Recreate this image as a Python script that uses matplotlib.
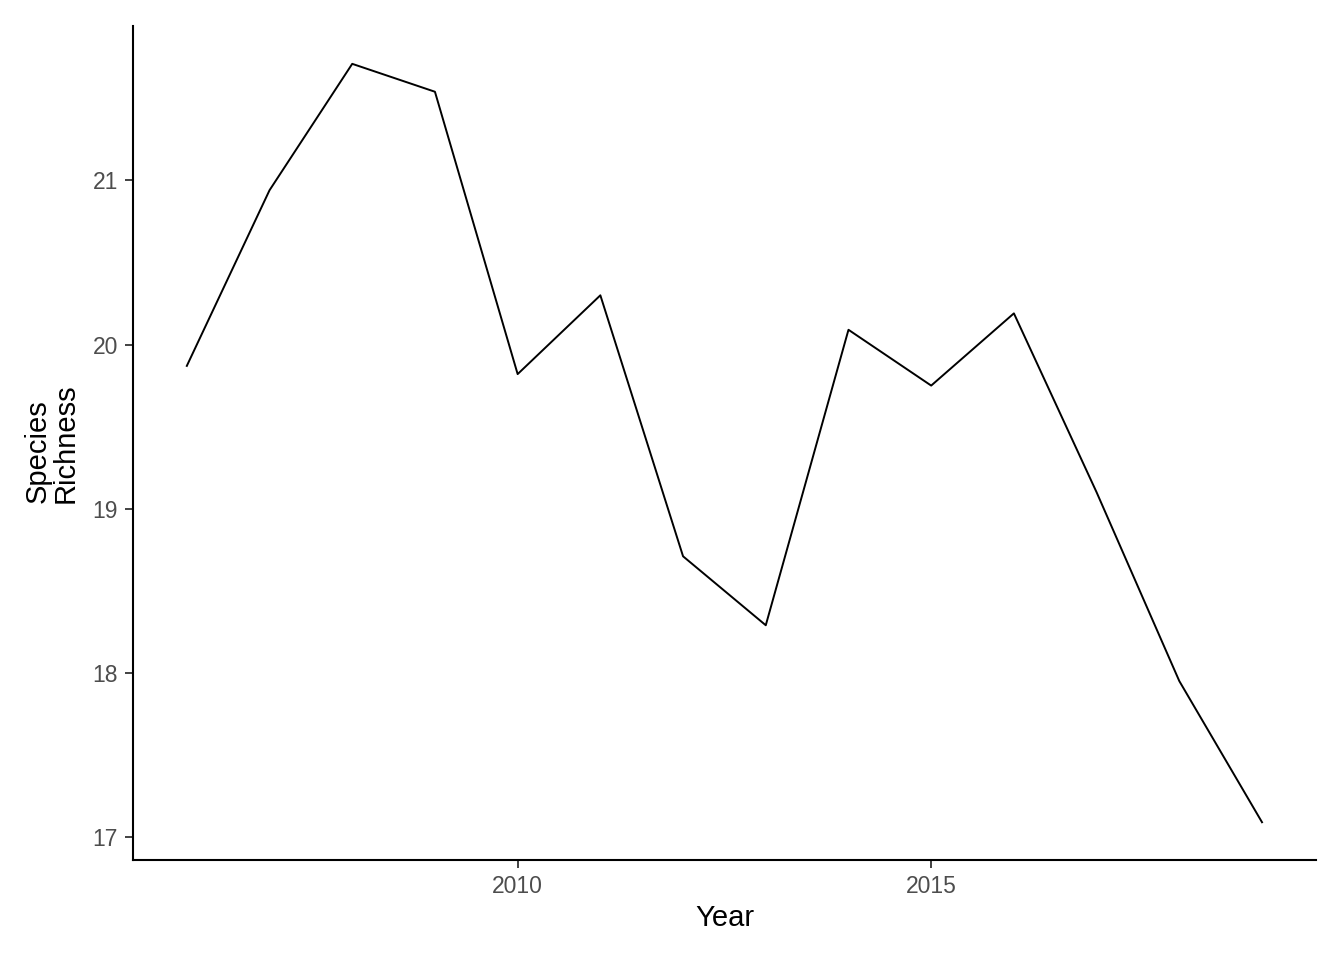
import matplotlib
matplotlib.use("Agg")
import matplotlib.pyplot as plt

# Species richness per year
years = [2006, 2007, 2008, 2009, 2010, 2011, 2012,
         2013, 2014, 2015, 2016, 2017, 2018, 2019]
richness = [19.87, 20.94, 21.71, 21.54, 19.82, 20.30, 18.71,
            18.29, 20.09, 19.75, 20.19, 19.10, 17.95, 17.09]
x_ticks = [2010, 2015]
y_ticks = [17, 18, 19, 20, 21]

plt.rcParams['font.family'] = ['Liberation Sans', 'DejaVu Sans']

fig = plt.figure(figsize=(13.44, 9.6), dpi=100)
ax = fig.add_axes([0.099, 0.104, 0.880, 0.869])

ax.plot(years, richness, color='black', lw=1.4)
ax.margins(0.05)

# classic theme: only left and bottom axis lines
for side in ['top', 'right']:
    ax.spines[side].set_visible(False)
for side in ['left', 'bottom']:
    ax.spines[side].set_linewidth(1.5)
    ax.spines[side].set_color('black')

ax.set_xticks(x_ticks)
ax.set_yticks(y_ticks)
ax.tick_params(axis='both', length=5.5, width=1.3, color='#333333',
               labelsize=16.5, labelcolor='#4D4D4D', pad=5.5)

ax.set_xlabel("Year", fontsize=21, color='black', labelpad=4)
ax.set_ylabel("Species\nRichness", fontsize=21, color='black',
              labelpad=9, multialignment='left', linespacing=1.0)

fig.savefig("out.png", dpi=100, facecolor='white')
